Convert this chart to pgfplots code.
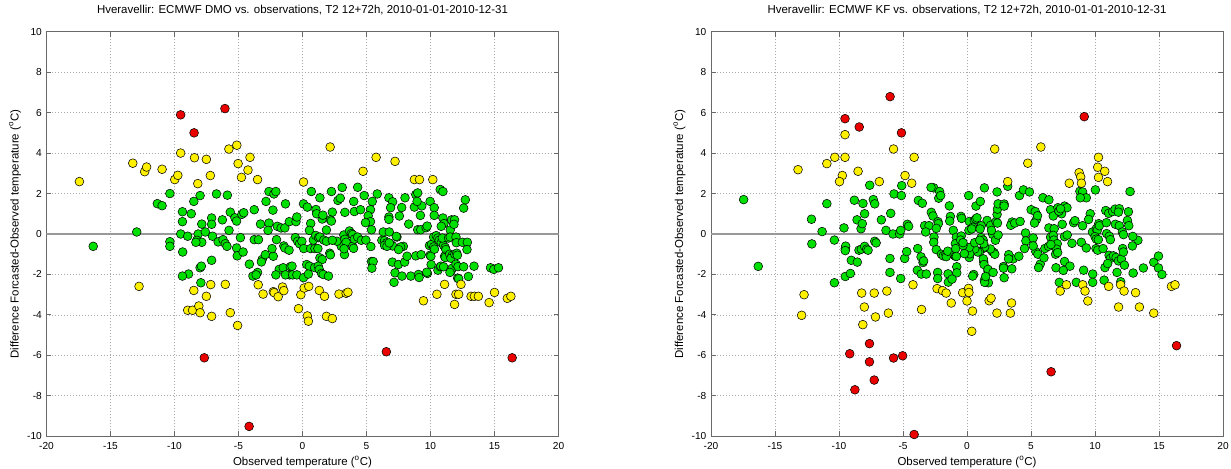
\documentclass[border=0pt]{standalone}
\usepackage{fontspec}
\setmainfont{Liberation Sans}
\usepackage{pgfplots}
\pgfplotsset{compat=1.18}

\definecolor{cgreen}{RGB}{0,224,0}
\definecolor{cyellow}{RGB}{255,240,0}
\definecolor{cred}{RGB}{235,0,0}
\definecolor{boxgray}{RGB}{105,105,105}
\definecolor{gridgray}{RGB}{170,170,170}

\pgfplotsset{
  scatterbox/.style={
    anchor=south west, scale only axis,
    width=384pt, height=303.45pt,
    xmin=-20, xmax=20, ymin=-10, ymax=10,
    xtick={-20,-15,...,20}, ytick={-10,-8,...,10},
    grid=major,
    major grid style={dash pattern=on 0.75pt off 1.5pt, color=gridgray, line width=0.6pt},
    axis line style={color=boxgray, line width=0.7pt},
    tick style={color=boxgray, line width=0.7pt},
    tick align=inside, major tick length=3.75pt,
    xtick pos=both, ytick pos=both,
    xticklabel pos=left, yticklabel pos=left,
    /pgf/number format/assume math mode=true,
    tick label style={font=\fontsize{7.6}{9}\selectfont, text=black},
    xticklabel style={yshift=-1pt},
    label style={font=\fontsize{8.6}{10}\selectfont},
    title style={font=\fontsize{8.6}{10}\selectfont, at={(axis description cs:0.5,1.033)}, anchor=center},
    xlabel style={at={(axis description cs:0.5,-0.0635)}, anchor=center},
    ylabel style={at={(axis description cs:-0.0615,0.5)}, anchor=center},
    xlabel={Observed temperature (\textsuperscript{o}C)},
    ylabel={Difference Forcasted-Observed temperature (\textsuperscript{o}C)},
  },
  dot/.style={only marks, mark=*, mark size=3.3pt,
    mark options={draw=black!85, line width=0.35pt}},
  zeroline/.style={color=black!40, line width=1.3pt, forget plot},
}

\begin{document}
\begin{tikzpicture}

% ---------------- ECMWF DMO ----------------
\begin{axis}[scatterbox, at={(34.875pt,23.775pt)},
  title={Hveravellir: ECMWF DMO vs. observations, T2 12+72h, 2010-01-01-2010-12-31}]
\addplot[zeroline] coordinates {(-20,0) (20,0)};
% |difference| < 2.5
\addplot[dot, fill=cgreen, mark options={fill=cgreen}] coordinates {
(-16.35,-0.61) (-12.95,0.1) (-11.34,1.5) (-10.97,1.4) (-10.36,2.0) (-10.36,-0.38) (-10.36,-0.61)
(-8.0,1.9) (-6.72,1.98) (-5.87,1.92) (-8.49,1.61) (-9.38,1.1) (-8.69,1.0) (-9.38,0.61)
(-7.87,0.49) (-7.1,0.79) (-7.1,0.48) (-6.26,0.7) (-5.64,1.08) (-5.28,0.8) (-5.15,0.64)
(-4.74,0.97) (-4.59,1.05) (-3.77,1.2) (-5.74,0.18) (-2.62,2.1) (-2.23,1.98) (-2.08,2.1)
(-2.85,1.61) (-2.31,1.18) (-1.33,1.49) (-3.28,0.49) (-2.62,0.54) (-2.69,0.18) (-1.97,0.38)
(-1.67,0.3) (-1.38,0.3) (-1.03,0.61) (-0.51,0.61) (-0.44,0.84) (0.08,1.49) (0.38,1.33)
(0.69,2.1) (1.36,1.79) (1.05,1.21) (1.54,0.74) (1.1,1.0) (1.59,0.93) (2.26,2.1) (3.1,2.3)
(2.77,1.66) (2.95,1.77) (4.0,1.61) (4.31,2.31) (3.31,1.07) (2.33,1.08) (2.18,0.7) (2.26,0.64)
(0.64,0.52) (0.54,0.18) (1.87,0.2) (4.05,1.11) (3.23,-0.05) (3.67,0.15) (3.82,0.02) (3.92,-0.03)
(-9.51,0.0) (-8.97,-0.11) (-8.15,0.0) (-8.26,-0.31) (-7.59,0.1) (-7.03,-0.11) (-6.59,-0.39)
(-6.21,-0.28) (-6.03,-0.48) (-5.9,-0.61) (-4.85,-0.18) (-7.87,-0.41) (-8.33,-0.41) (-9.36,-0.89)
(-8.9,-1.98) (-9.38,-2.08) (-8.0,-1.67) (-7.9,-1.59) (-7.94,-2.41) (-7.1,-1.3) (-5.15,-0.69)
(-5.1,-1.08) (-4.64,-0.89) (-4.15,-1.49) (-3.87,-2.08) (-3.51,-1.9) (-3.62,-2.02) (-3.15,-1.26)
(-3.21,-1.38) (-2.9,-1.02) (-2.28,-1.1) (-2.03,-0.28) (-3.77,-0.28) (-3.44,-0.28) (-2.38,-0.72)
(-1.82,-1.75) (-1.51,-1.67) (-0.95,-1.62) (-0.82,-1.59) (-1.0,-2.02) (-1.33,-2.02) (-0.77,-2.02)
(-0.44,-2.02) (-2.08,-2.02) (-1.46,-0.59) (-1.38,-0.69) (-1.05,-0.8) (-0.56,-0.18) (-0.38,-0.36)
(-0.23,-0.48) (-0.05,-0.36) (0.1,-0.72) (0.08,-2.16) (0.33,-1.51) (0.54,-1.59) (0.46,-1.98)
(0.64,-0.72) (0.97,-0.72) (1.2,-0.72) (0.85,-0.3) (1.03,-0.07) (1.26,-0.18) (1.36,-0.15)
(1.67,-0.3) (1.87,-0.36) (2.13,-0.95) (2.18,-1.03) (1.36,-1.18) (1.54,-1.26) (0.95,-1.66)
(1.23,-1.59) (1.31,-1.75) (1.49,-1.95) (1.62,-2.0) (2.03,-2.08) (3.1,-0.49) (3.03,-0.61)
(2.69,-0.36) (2.33,-0.31) (3.31,-0.26) (3.41,-0.41) (3.92,-0.61) (4.05,-0.25) (4.31,-0.15)
(3.28,-1.02) (3.25,-0.73) (3.99,-0.71) (4.6,-0.31)
(4.82,1.9) (5.84,1.98) (5.45,1.61) (4.53,1.2) (5.31,1.2) (5.13,0.9) (5.31,0.61) (5.39,0.21)
(4.92,0.56) (4.95,-0.3) (5.34,-0.62) (5.39,-1.36) (5.52,-1.36) (5.42,-1.69) (6.31,0.1) (6.78,0.1)
(6.75,1.79) (7.04,1.59) (6.88,1.3) (6.75,0.84) (6.75,0.72) (7.57,0.89) (7.75,1.31) (8.01,1.79)
(8.3,0.49) (8.85,1.95) (9.0,2.03) (8.74,1.33) (9.32,1.39) (8.95,1.61) (9.21,0.92) (9.0,0.21)
(9.24,0.21) (9.66,0.31) (9.74,0.39) (9.97,1.61) (10.29,1.3) (10.29,0.92) (10.76,2.2) (10.97,2.1)
(10.97,0.79) (11.05,0.51) (10.84,0.38) (11.65,0.7) (11.88,0.7) (11.54,0.2) (11.83,0.48)
(12.72,1.69) (12.59,1.28) (6.2,-0.31) (6.41,-0.33) (6.57,-0.44) (6.91,-0.52) (7.04,-0.59)
(6.41,-0.56) (6.6,-0.61) (7.38,-0.15) (7.33,-0.12) (7.88,-0.61) (7.67,-0.64) (7.51,-0.77) (6.78,-0.44)
(7.02,-1.39) (7.49,-1.51) (7.98,-1.39) (7.23,-1.92) (7.15,-2.39) (7.77,-2.08) (8.46,-2.08)
(9.06,-2.0) (9.11,-2.15) (9.76,-1.95) (9.71,-1.89) (8.17,-1.1) (8.85,-1.08) (9.27,-1.02)
(9.97,-1.05) (10.03,-1.1) (10.05,-1.51) (10.58,-1.79) (10.76,-1.62) (9.92,-0.57) (10.08,-0.51)
(10.24,-0.64) (10.31,-0.75) (10.24,-0.15) (10.45,-0.08) (10.58,-0.2) (10.68,-0.31) (10.84,-0.43)
(11.02,-0.56) (11.15,-0.67) (11.2,-0.77) (10.92,-0.2) (11.41,-0.2) (11.54,-0.15) (11.99,-0.15)
(12.02,-0.43) (12.49,-0.41) (12.88,-0.41) (12.85,-0.77) (11.1,-1.1) (11.15,-1.16) (11.5,-1.0)
(11.7,-1.05) (11.6,-1.2) (11.9,-1.0) (12.05,-0.95) (12.1,-1.05) (10.81,-1.59) (11.02,-1.62)
(11.6,-1.84) (11.68,-1.7) (11.52,-1.9) (11.99,-1.49) (12.15,-1.61) (12.59,-1.62) (12.12,-2.18)
(12.2,-2.21) (12.96,-2.1) (13.4,-1.59) (14.69,-1.67) (14.95,-1.75) (15.31,-1.67)
};
% 2.5 <= |difference| < 5
\addplot[dot, fill=cyellow, mark options={fill=cyellow}] coordinates {
(-17.43,2.59) (-13.26,3.5) (-12.77,-2.59) (-12.33,3.08) (-12.18,3.31) (-10.97,3.2) (-9.98,2.69)
(-9.74,2.9) (-9.52,4.0) (-8.44,3.77) (-7.51,3.69) (-5.75,4.2) (-5.13,4.39) (-4.1,3.79)
(-5.03,3.48) (-4.26,3.16) (-4.77,2.8) (-3.51,2.69) (-7.2,2.89) (-8.18,2.49) (0.08,2.57)
(2.16,4.3) (5.75,3.79) (7.23,3.59) (4.73,3.1) (-5.07,-4.52) (-7.17,-2.5) (-8.49,-2.79)
(-7.51,-3.08) (-6.03,-2.49) (-8.97,-3.77) (-8.59,-3.77) (-8.1,-3.56) (-8.0,-3.89) (-7.1,-4.07)
(-5.64,-3.89) (-3.46,-2.51) (-3.08,-2.97) (-2.28,-2.85) (-2.21,-2.9) (-1.9,-3.1) (-1.56,-2.62)
(-1.46,-2.8) (-0.31,-3.69) (0.38,-4.05) (0.46,-4.31) (-0.13,-3.0) (0.13,-2.67) (0.49,-2.59)
(1.31,-2.79) (1.72,-3.08) (1.87,-4.07) (2.33,-4.18) (2.85,-2.97) (3.41,-2.93) (3.55,-2.88)
(8.74,2.69) (9.14,2.69) (10.18,2.69) (11.1,-2.49) (12.38,-2.49) (10.5,-2.98) (9.45,-3.3)
(11.88,-3.48) (11.99,-2.98) (12.2,-2.98) (13.17,-3.08) (13.43,-3.08) (13.74,-3.08) (15.0,-2.89)
(14.58,-3.39) (16.0,-3.18) (16.28,-3.08)
};
% |difference| >= 5
\addplot[dot, fill=cred, mark options={fill=cred}] coordinates {
(-9.52,5.89) (-8.47,5.0) (-6.06,6.2) (-7.67,-6.12) (-4.17,-9.51) (6.55,-5.82) (16.38,-6.12)
};
\end{axis}

% ---------------- ECMWF KF ----------------
\begin{axis}[scatterbox, at={(533.25pt,23.775pt)},
  title={Hveravellir: ECMWF KF vs. observations, T2 12+72h, 2010-01-01-2010-12-31}]
\addplot[zeroline] coordinates {(-20,0) (20,0)};
% |difference| < 2.5
\addplot[dot, fill=cgreen, mark options={fill=cgreen}] coordinates {
(-17.45,1.7) (-16.31,-1.6) (-11.32,0.12) (-12.12,-0.49) (-10.95,1.5) (-10.36,-0.3) (-10.36,-2.41)
(-12.15,0.73) (14.59,-1.4) (14.96,-1.09) (14.96,-1.68) (15.23,-2.0) (13.78,-1.68) (13.35,-0.31)
(12.95,-0.12) (12.92,-0.59) (12.98,-1.93)
(-9.61,0.3) (-9.51,-0.72) (-9.48,-0.6) (-9.51,-0.82) (-9.51,-2.1) (-9.11,-1.95) (-9.04,-1.3)
(-8.57,-1.39) (-8.8,1.67) (-8.13,1.51) (-8.0,1.0) (-8.59,0.7) (-8.28,0.26) (-8.18,0.51)
(-8.44,-0.8) (-8.25,-0.75) (-8.0,-0.61) (-7.84,-0.75) (-7.73,-0.8) (-7.6,2.41) (-7.32,1.7)
(-7.21,1.49) (-7.21,-0.36) (-7.1,-0.44) (-6.69,0.7) (-6.02,-1.21) (-6.02,-1.9) (-5.96,1.02)
(-6.33,0.18) (-5.78,0.0) (-5.26,0.0) (-5.7,1.98) (-5.13,1.9) (-5.1,2.39) (-5.18,-2.2)
(-5.18,0.18) (-4.87,-1.21) (-4.71,-0.87) (-4.66,0.48) (-4.56,0.38) (-3.8,1.66) (-3.49,1.52)
(-3.85,-0.72) (-3.59,-1.13) (-3.44,-1.41) (-3.39,-1.33) (-3.88,-1.79) (-3.57,-1.98) (-3.18,-1.98)
(-3.31,0.41) (-2.97,0.41) (-3.23,0.1) (-2.6,2.28) (-2.81,2.3) (-2.14,2.1) (-2.21,1.77)
(-2.06,1.9) (-2.79,1.07) (-2.66,0.89) (-2.27,0.61) (-2.24,0.51) (-2.4,0.28) (-2.58,-0.15)
(-2.6,-0.41) (-2.4,-0.77) (-2.29,-1.9) (-2.29,-2.2) (-1.48,-1.97) (-1.46,-2.38) (-2.0,-1.0)
(-1.85,-1.08) (-1.65,-1.0) (-1.62,-1.12) (-1.5,-0.85) (-1.0,-1.05) (-0.9,-1.1) (-1.38,1.39)
(-1.3,0.87) (-1.35,0.64) (-1.07,0.18) (-0.83,-0.16) (-0.91,-0.48) (-0.88,-0.72) (-0.83,-1.11)
(-0.8,-1.62) (-0.8,-1.92) (-1.17,-2.23) (-0.45,-0.1) (-0.5,-0.3)
(0.13,1.9) (1.36,2.28) (2.35,2.08) (3.18,2.36) (4.1,1.9) (4.41,2.18) (4.88,2.08) (5.93,1.79)
(6.4,1.69) (6.53,1.2) (6.74,0.89) (7.1,1.3) (7.62,1.38) (7.81,1.3) (7.39,1.0) (8.33,0.56)
(8.43,0.66) (9.03,0.41) (8.82,2.11) (9.03,2.08) (9.32,1.79) (8.85,1.79) (9.63,1.0) (9.5,0.72)
(10.03,2.18) (9.8,0.1) (10.1,0.26) (10.18,0.18) (10.0,-0.13) (10.29,0.51) (10.34,0.41)
(10.1,-0.25) (10.26,-0.28) (10.08,-0.72) (10.21,-0.8) (10.63,-0.72) (10.84,1.16) (11.07,1.02)
(11.38,1.11) (11.57,1.23) (11.9,1.25) (11.83,1.08) (10.89,0.56) (10.91,0.02) (11.59,0.48)
(11.9,0.41) (12.14,0.1) (12.22,-0.03) (11.12,-0.11) (11.2,-0.28) (12.53,0.67) (12.64,0.41)
(12.61,1.1) (12.74,2.1) (11.1,-1.05) (11.2,-1.21) (11.44,-1.08) (11.65,-1.16) (11.83,-1.33)
(12.06,-1.23) (12.16,-0.72) (12.3,-1.54) (12.22,-0.89) (10.78,-1.66) (10.99,-1.46) (10.71,-2.28)
(11.72,-1.9) (12.01,-2.36)
(-0.47,0.87) (-0.42,0.77) (0.18,0.62) (0.57,0.67) (0.68,0.74) (0.78,0.8) (0.7,1.38) (1.04,1.61)
(1.57,0.67) (1.85,0.43) (2.27,0.61) (2.38,0.54) (2.01,-0.02) (2.22,-0.31) (2.43,-0.05) (2.35,0.97)
(2.38,1.23) (2.43,1.49) (2.9,1.48) (2.9,1.38) (3.52,0.59) (3.42,0.43) (3.73,0.54) (4.15,0.62)
(4.57,0.05) (4.6,-0.34) (5.17,-0.2) (5.01,1.2) (5.33,1.11) (5.43,0.72) (5.51,0.9) (5.27,0.54)
(6.4,0.3) (6.81,0.26) (6.53,-0.16) (6.74,-0.07) (6.79,-0.3) (7.05,-0.48) (7.0,-0.75) (6.92,-1.0)
(7.08,-0.92) (7.62,-0.13) (7.83,-0.05) (8.2,-0.46) (7.18,1.13) (7.31,1.25) (7.44,0.48)
(8.93,-0.41) (9.32,-0.69) (7.62,-1.36) (8.04,-1.59) (9.11,-1.79) (9.82,-1.98) (7.21,-2.39)
(8.54,-2.39) (9.82,-2.39) (6.95,-1.67) (7.52,-1.8) (5.72,-1.49) (5.59,-1.66) (5.38,-0.87)
(5.54,-1.0) (6.01,-1.18) (3.6,-1.23) (4.05,-1.1) (2.85,-1.61) (2.85,-1.69) (3.5,-1.72)
(3.26,-1.02) (3.24,-1.23) (4.49,-0.72) (5.17,-0.59) (6.08,-0.72) (6.37,-0.61) (6.55,-0.52)
(1.98,-0.87) (2.11,-0.92) (2.17,-1.0) (1.83,-0.74) (1.31,-0.7) (1.38,-0.64) (0.97,-0.89)
(0.84,-0.89) (0.6,-0.74) (1.31,-1.39) (1.28,-1.23) (1.33,-1.51) (1.64,-1.82) (1.64,-1.75)
(1.67,-2.41) (1.36,-2.28) (1.38,-2.39) (1.46,-2.1) (2.04,-1.9) (2.9,-2.16) (0.52,-2.0)
(0.44,-2.08) (0.18,-1.16) (0.21,-0.98) (0.16,-0.67) (-0.31,-0.57) (-0.31,-0.43) (-0.21,-0.97)
(0.15,0.18) (0.46,0.33) (0.37,0.25) (1.11,0.41) (1.02,0.25) (1.11,-0.18) (1.26,-0.3) (1.3,-0.48)
(1.91,0.18) (0.59,-0.43) (1.0,-0.31)
};
% 2.5 <= |difference| < 5
\addplot[dot, fill=cyellow, mark options={fill=cyellow}] coordinates {
(-13.2,3.18) (-12.73,-3.0) (-12.92,-4.02) (-10.95,3.48) (-10.33,3.79) (-9.53,4.91) (-9.53,3.79)
(-9.74,2.89) (-9.96,2.59) (-8.51,3.1) (-5.74,4.2) (-4.13,3.79) (-4.84,2.89) (-4.32,2.51)
(-6.85,2.59) (2.16,4.2) (5.77,4.3) (4.75,3.5) (3.18,2.59) (10.27,3.79) (10.21,3.3) (10.76,3.1)
(10.27,2.8) (10.98,2.59) (8.76,3.03) (8.88,2.82) (8.94,2.51) (7.99,2.51) (-8.23,-2.92)
(-8.02,-3.61) (-8.14,-4.48) (-7.25,-2.92) (-7.15,-4.1) (-6.26,-2.82) (-6.14,-3.91) (-4.22,-2.51)
(-3.55,-3.73) (-2.34,-2.7) (-1.91,-2.8) (-1.63,-2.92) (-1.23,-3.41) (-0.34,-2.9) (0,-3.31)
(0.12,-2.69) (0.15,-2.89) (0.43,-3.81) (0.37,-4.81) (1.73,-3.3) (1.88,-3.17) (2.34,-3.91)
(3.39,-3.91) (3.48,-3.41) (7.28,-2.82) (7.77,-2.51) (9.04,-2.51) (9.22,-2.82) (9.44,-3.31)
(11.07,-2.59) (11.84,-3.61) (12.0,-2.51) (12.27,-2.82) (13.17,-2.9) (13.47,-3.61) (14.59,-3.91)
(15.97,-2.59) (16.25,-2.51)
};
% |difference| >= 5
\addplot[dot, fill=cred, mark options={fill=cred}] coordinates {
(-6.01,6.79) (-9.53,5.7) (-8.42,5.29) (-5.12,5.0) (9.16,5.8) (-9.16,-5.92) (-7.62,-5.42)
(-7.62,-6.32) (-7.25,-7.22) (-8.76,-7.7) (-5.74,-6.13) (-5.03,-6.02) (-4.13,-9.91) (6.57,-6.81)
(16.37,-5.52)
};
\end{axis}

\pgfresetboundingbox
\path (0,0) rectangle (923.25pt,351pt);
\end{tikzpicture}
\end{document}
